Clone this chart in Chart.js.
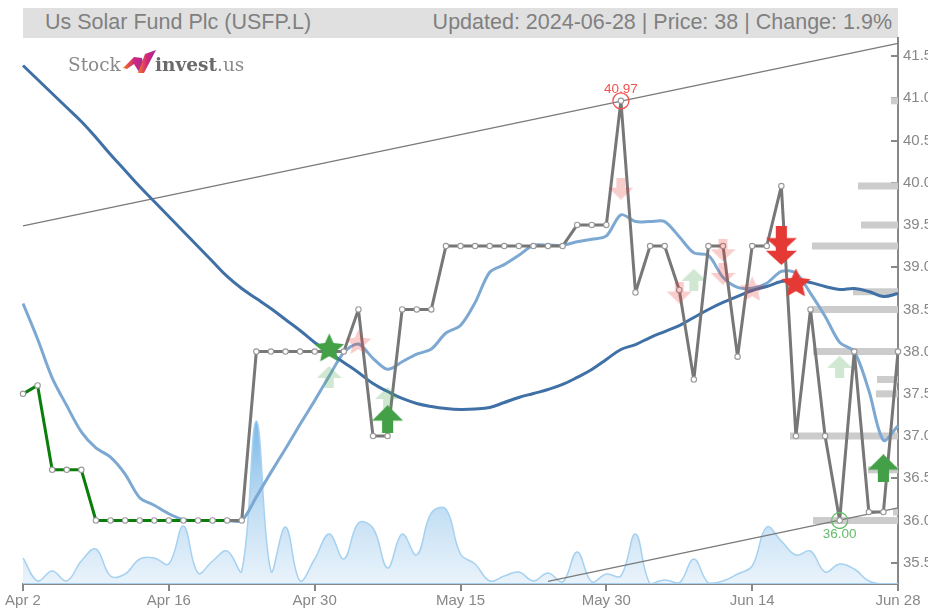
<!DOCTYPE html>
<html><head><meta charset="utf-8">
<style>
html,body{margin:0;padding:0;background:#fff;width:928px;height:608px;overflow:hidden;font-family:"Liberation Sans",Arial,sans-serif}
#wrap{position:relative;width:928px;height:608px}
canvas{position:absolute;left:0;top:0}
#band{position:absolute;left:23px;top:8px;width:875px;height:30px;background:#e0e0e0}
#tl{position:absolute;left:22px;top:1px;font-size:21.5px;line-height:27px;color:#808080;white-space:nowrap}
#tr{position:absolute;right:6px;top:1px;font-size:21.5px;line-height:27px;color:#808080;white-space:nowrap}
#logo{position:absolute;left:68px;top:50px;width:180px;height:26px;font-family:"DejaVu Serif",serif;font-size:18.5px;line-height:29px;white-space:nowrap}
#logo span{position:absolute;top:0}
</style></head><body>
<div id="wrap">
<div id="band"><div id="tl">Us Solar Fund Plc (USFP.L)</div><div id="tr">Updated: 2024-06-28 | Price: 38 | Change: 1.9%</div></div>
<canvas id="c" width="928" height="608"></canvas>
<div id="logo">
<span style="left:0;color:#8a8a8a">Stock</span>
<svg style="position:absolute;left:55px;top:0" width="34" height="24" viewBox="0 0 34 24">
<defs><linearGradient id="g" x1="0" y1="0" x2="1" y2="0"><stop offset="0" stop-color="#f47a20"/><stop offset=".5" stop-color="#d0267a"/><stop offset="1" stop-color="#a02aa0"/></linearGradient></defs>
<path d="M0,18 L11,7 L19,8 L22,20 L16,22 L11,14 L4,19 Z" fill="url(#g)"/>
<path d="M15,23 L21,23 L33,0 L22,4 Z" fill="url(#g)"/>
</svg>
<span style="left:87px;color:#6a6a6a;font-weight:bold">invest</span>
<span style="left:149px;color:#8a8a8a">.us</span>
</div>
</div>
<script src="https://cdn.jsdelivr.net/npm/chart.js@4/dist/chart.umd.min.js"></script>
<script>
const categories=["Apr 2","Apr 3","Apr 4","Apr 5","Apr 8","Apr 9","Apr 10","Apr 11","Apr 12","Apr 15","Apr 16","Apr 17","Apr 18","Apr 19","Apr 22","Apr 23","Apr 24","Apr 25","Apr 26","Apr 29","Apr 30","May 1","May 2","May 3","May 7","May 8","May 9","May 10","May 13","May 14","May 15","May 16","May 17","May 20","May 21","May 22","May 23","May 24","May 28","May 29","May 30","May 31","Jun 4","Jun 5","Jun 6","Jun 7","Jun 10","Jun 11","Jun 12","Jun 13","Jun 14","Jun 17","Jun 18","Jun 19","Jun 20","Jun 21","Jun 24","Jun 25","Jun 26","Jun 27","Jun 28"];
const tickLabels=["Apr 2","Apr 16","Apr 30","May 15","May 30","Jun 14","Jun 28"];
const closePrice=[37.5,37.6,36.6,36.6,36.6,36,36,36,36,36,36,36,36,36,36,36,38,38,38,38,38,38,38,38.5,37,37,38.5,38.5,38.5,39.25,39.25,39.25,39.25,39.25,39.25,39.25,39.25,39.25,39.5,39.5,39.5,40.97,38.7,39.25,39.25,38.73,37.67,39.25,39.25,37.94,39.25,39.25,39.96,37,38.5,37,36,38,36.1,36.1,38];
const longMA=[41.388,41.223,41.057,40.891,40.725,40.536,40.334,40.145,39.955,39.778,39.6,39.423,39.245,39.067,38.89,38.747,38.629,38.511,38.38,38.25,38.108,37.99,37.871,37.753,37.622,37.528,37.445,37.386,37.35,37.326,37.315,37.32,37.338,37.397,37.457,37.504,37.551,37.611,37.694,37.788,37.907,38.025,38.084,38.167,38.238,38.309,38.404,38.499,38.582,38.653,38.724,38.771,38.83,38.842,38.819,38.771,38.736,38.748,38.712,38.653,38.688];
const shortMA=[38.57,38.15,37.69,37.36,37.05,36.86,36.75,36.55,36.27,36.18,36.08,36.01,36,36,36,36,36.28,36.57,36.85,37.14,37.42,37.71,37.99,38.09,37.92,37.79,37.88,37.97,38.03,38.22,38.31,38.58,38.94,39.03,39.14,39.26,39.26,39.26,39.3,39.33,39.37,39.62,39.54,39.54,39.54,39.36,39.17,39.14,38.88,38.76,38.75,38.81,38.95,38.93,38.69,38.42,38.11,38,37.54,36.95,37.12];
const volume=[26,3,13,3,23,35,8,10,25,26,20,58,11,23,33,13,163,13,57,3,25,50,25,61,56,16,50,29,71,75,30,20,3,8,12,3,11,2,32,2,10,8,50,0,4,1,25,1,3,10,18,57,43,29,33,12,20,15,3,0,0];
const volumeBase=categories.map(()=>0);
const upperTrend=[39.49,41.65];
const lowerTrend=[35.28,36.15];
const levelPrices=[40.97,39.96,39.5,39.25,38.71,38.5,38,37.67,37.5,37,36.6,36.1,36];
const levelWeights=[7,40,37,86,45,86,85,21,22,108,30,5,85];
const buyStrongStar=[[21,38.05]];
const sellStrongStar=[[53,38.82]];
const buyStrongArrow=[[25,37.2],[59,36.62]];
const sellStrongArrow=[[52,39.33],[52,39.18]];
const buyWeakArrow=[[21,37.7],[25,37.45],[46,38.85],[56,37.82]];
const sellWeakArrow=[[41,39.93],[45,38.7],[48,39.2],[48,38.92]];
const sellWeakStar=[[23,38.12],[50,38.75]];
const highMark=[41,40.97];
const lowMark=[56,36];

const GREEN='#43a047',RED='#e53935';
function icon(kind,color,alpha,w,h){
  const c=document.createElement('canvas');c.width=w;c.height=h;
  const g=c.getContext('2d');g.fillStyle=color;g.globalAlpha=alpha;g.beginPath();
  if(kind==='star'){
    const R=w/2,r=R*0.47,cx=w/2,cy=h/2+1.5;
    for(let i=0;i<10;i++){const a=-Math.PI/2+i*Math.PI/5,q=i%2?r:R;g[i?'lineTo':'moveTo'](cx+q*Math.cos(a),cy+q*Math.sin(a));}
  }else{
    const s=kind==='up'?1:-1,y=v=>h/2+s*(v-0.5)*h;
    const x=v=>v*w;
    g.moveTo(x(.5),y(0));g.lineTo(x(1),y(.55));g.lineTo(x(.68),y(.55));g.lineTo(x(.68),y(1));g.lineTo(x(.32),y(1));g.lineTo(x(.32),y(.55));g.lineTo(x(0),y(.55));
  }
  g.closePath();g.fill();return c;
}
const pts=list=>list.map(p=>({x:categories[p[0]],y:p[1]}));
const sig=(list,img,order)=>({type:'line',data:pts(list),showLine:false,pointStyle:img,pointRadius:10,order,clip:false,yAxisID:'y',xAxisID:'x'});
const levelSets=levelPrices.map((p,i)=>({type:'line',xAxisID:'xv',yAxisID:'y',data:[{x:0,y:p},{x:levelWeights[i],y:p}],borderColor:'#cccccc',borderWidth:7,pointRadius:0,borderCapStyle:'butt',order:9}));

const valueLabels={id:'valueLabels',afterDatasetsDraw(ch){
  const x=ch.scales.x,y=ch.scales.y,g=ch.ctx;g.save();g.font='13.5px "Liberation Sans"';g.textAlign='center';
  g.fillStyle='#ef5350';g.fillText(highMark[1].toFixed(2),x.getPixelForValue(highMark[0]),y.getPixelForValue(highMark[1])-8);
  g.fillStyle='#66bb6a';g.fillText(lowMark[1].toFixed(2),x.getPixelForValue(lowMark[0]),y.getPixelForValue(lowMark[1])+18);
  g.restore();
}};
const endsOnly=v=>categories.map((_,i)=>i===0?v[0]:i===categories.length-1?v[1]:null);
new Chart(document.getElementById('c'),{
  type:'line',
  data:{labels:categories,datasets:[
    {label:'Volume',data:volume,yAxisID:'yv',fill:'origin',tension:.4,borderColor:'#a6d1f0',borderWidth:1.5,pointRadius:0,order:12,
      backgroundColor(c){const a=c.chart.chartArea;if(!a)return '#dcebf8';const g=c.chart.ctx.createLinearGradient(0,420,0,a.bottom);g.addColorStop(0,'#7cb9e8');g.addColorStop(.55,'#c3dff4');g.addColorStop(1,'#eaf3fb');return g;}},
    {label:'Base',data:volumeBase,yAxisID:'yv',borderColor:'#a6d1f0',borderWidth:2,pointRadius:0,order:11},
    ...levelSets,
    {label:'Upper',data:endsOnly(upperTrend),spanGaps:true,borderColor:'#7a7a7a',borderWidth:1.3,pointRadius:0,order:8},
    {label:'Lower',data:categories.map((_,i)=>i===36?lowerTrend[0]:i===60?lowerTrend[1]:null),spanGaps:true,borderColor:'#7a7a7a',borderWidth:1.3,pointRadius:0,order:8},
    {label:'Short MA',data:shortMA,borderColor:'#7ca8d2',borderWidth:3,pointRadius:0,tension:.3,order:6},
    {label:'Long MA',data:longMA,borderColor:'#3f70a6',borderWidth:3,pointRadius:0,tension:.4,order:5},
    {label:'Close',data:closePrice,tension:0,borderWidth:3,borderColor:'#777',borderJoinStyle:'round',borderCapStyle:'round',order:4,
      segment:{borderColor:c=>c.p0DataIndex<14?'#0a7d0a':'#777'},
      pointRadius:2.7,pointBackgroundColor:'#fff',pointBorderColor:'#999',pointBorderWidth:1.1},
    {label:'High',data:[{x:categories[highMark[0]],y:highMark[1]}],showLine:false,pointRadius:8,pointBackgroundColor:'rgba(0,0,0,0)',pointBorderColor:'#ef5350',pointBorderWidth:1.3,order:3},
    {label:'Low',data:[{x:categories[lowMark[0]],y:lowMark[1]}],showLine:false,pointRadius:8,pointBackgroundColor:'rgba(0,0,0,0)',pointBorderColor:'#66bb6a',pointBorderWidth:1.3,order:3},
    sig(buyWeakArrow,icon('up',GREEN,.25,25,22),2.5),
    sig(sellWeakArrow,icon('down',RED,.25,25,22),2.5),
    sig(sellWeakStar,icon('star',RED,.25,27,27),2.5),
    sig(buyStrongArrow,icon('up',GREEN,1,31,28),1),
    sig(sellStrongArrow,icon('down',RED,1,31,26),1),
    sig(buyStrongStar,icon('star',GREEN,1,31,31),1),
    sig(sellStrongStar,icon('star',RED,1,31,31),1)
  ]},
  plugins:[valueLabels],
  options:{
    responsive:false,animation:false,events:[],
    layout:{padding:{left:23,top:38,right:0,bottom:0}},
    plugins:{legend:{display:false},tooltip:{enabled:false},title:{display:false}},
    scales:{
      x:{type:'category',offset:false,border:{color:'#888',width:2},grid:{drawOnChartArea:false,color:'#888',lineWidth:2,tickLength:7},
        afterBuildTicks(a){a.ticks=a.ticks.filter(t=>tickLabels.includes(categories[t.value]));},
        afterFit(a){a.height=24;},
        ticks:{autoSkip:false,maxRotation:0,color:'#888',padding:1,font:{size:15,family:'"Liberation Sans"'}}},
      xv:{type:'linear',display:false,reverse:true,min:0,max:875},
      y:{position:'right',min:35.248,max:41.714,border:{color:'#888',width:2},
        grid:{drawOnChartArea:false,color:'#888',lineWidth:2,tickLength:-7},
        afterFit(a){a.width=30;},
        ticks:{stepSize:.5,includeBounds:false,padding:12,color:'#888',font:{size:15,family:'"Liberation Sans"'},callback:v=>Number(v).toFixed(1)}},
      yv:{display:false,min:0,max:546}
    }
  }
});
</script>
</body></html>
